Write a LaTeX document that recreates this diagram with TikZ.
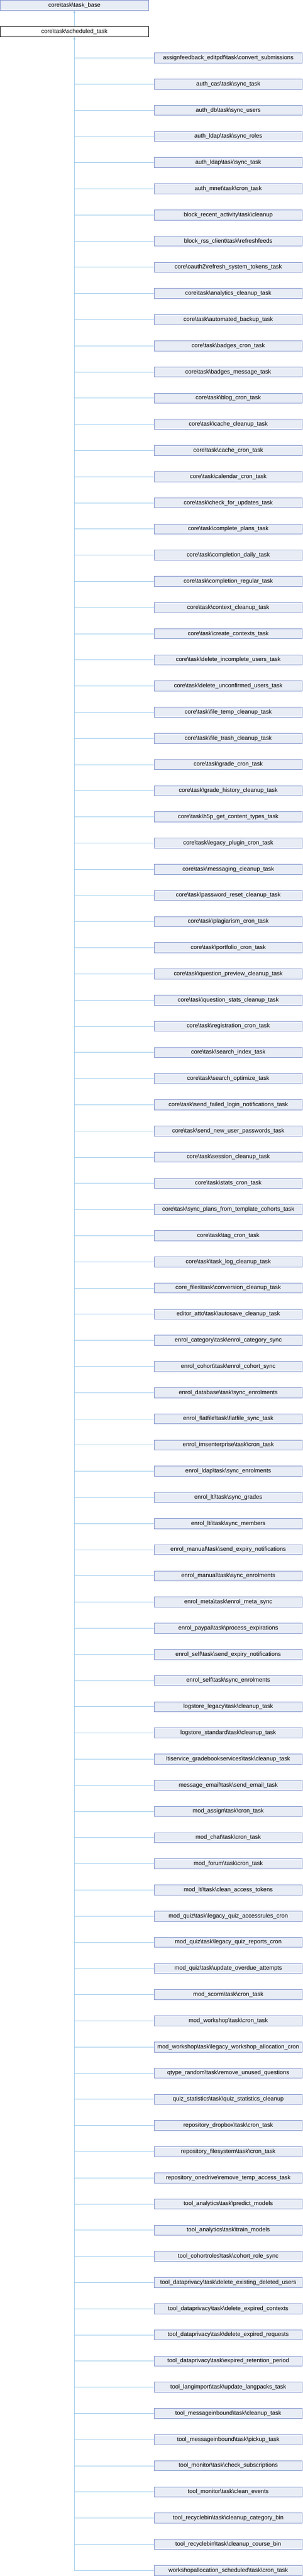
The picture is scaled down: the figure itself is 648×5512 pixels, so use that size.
\documentclass[tikz,border=0pt]{standalone}
\usepackage{fontspec}
\setmainfont{Liberation Sans}
\usetikzlibrary{arrows.meta}
\definecolor{boxfill}{RGB}{232,236,245}
\definecolor{boxline}{RGB}{124,144,204}
\definecolor{linkblue}{RGB}{150,200,235}
\newcommand{\bs}{\textbackslash}
\begin{document}
\begin{tikzpicture}[x=1pt,y=-1pt,
  cls/.style={draw=boxline,fill=boxfill,line width=1pt,minimum width=317pt,minimum height=21.6pt,inner sep=0pt,font=\fontsize{12.55}{14}\selectfont},
  cur/.style={cls,draw=black,fill=white},
  link/.style={draw=linkblue,line width=1pt},
  inherit/.style={link,-{Triangle[length=5pt,width=4.5pt]}}]
\fill[white] (0,0) rectangle (648,5512);
\useasboundingbox (0,0) rectangle (648,5512);
\node[cls] (base) at (159.2,11.65) {core\bs task\bs task\_base};
\node[cur] (sched) at (159.2,68) {core\bs task\bs scheduled\_task};
\draw[inherit] (sched) -- (base);
% derived classes, one row each
\foreach \name [count=\i from 0] in {
  assignfeedback\_editpdf\bs task\bs convert\_submissions,
  auth\_cas\bs task\bs sync\_task,
  auth\_db\bs task\bs sync\_users,
  auth\_ldap\bs task\bs sync\_roles,
  auth\_ldap\bs task\bs sync\_task,
  auth\_mnet\bs task\bs cron\_task,
  block\_recent\_activity\bs task\bs cleanup,
  block\_rss\_client\bs task\bs refreshfeeds,
  core\bs oauth2\bs refresh\_system\_tokens\_task,
  core\bs task\bs analytics\_cleanup\_task,
  core\bs task\bs automated\_backup\_task,
  core\bs task\bs badges\_cron\_task,
  core\bs task\bs badges\_message\_task,
  core\bs task\bs blog\_cron\_task,
  core\bs task\bs cache\_cleanup\_task,
  core\bs task\bs cache\_cron\_task,
  core\bs task\bs calendar\_cron\_task,
  core\bs task\bs check\_for\_updates\_task,
  core\bs task\bs complete\_plans\_task,
  core\bs task\bs completion\_daily\_task,
  core\bs task\bs completion\_regular\_task,
  core\bs task\bs context\_cleanup\_task,
  core\bs task\bs create\_contexts\_task,
  core\bs task\bs delete\_incomplete\_users\_task,
  core\bs task\bs delete\_unconfirmed\_users\_task,
  core\bs task\bs file\_temp\_cleanup\_task,
  core\bs task\bs file\_trash\_cleanup\_task,
  core\bs task\bs grade\_cron\_task,
  core\bs task\bs grade\_history\_cleanup\_task,
  core\bs task\bs h5p\_get\_content\_types\_task,
  core\bs task\bs legacy\_plugin\_cron\_task,
  core\bs task\bs messaging\_cleanup\_task,
  core\bs task\bs password\_reset\_cleanup\_task,
  core\bs task\bs plagiarism\_cron\_task,
  core\bs task\bs portfolio\_cron\_task,
  core\bs task\bs question\_preview\_cleanup\_task,
  core\bs task\bs question\_stats\_cleanup\_task,
  core\bs task\bs registration\_cron\_task,
  core\bs task\bs search\_index\_task,
  core\bs task\bs search\_optimize\_task,
  core\bs task\bs send\_failed\_login\_notifications\_task,
  core\bs task\bs send\_new\_user\_passwords\_task,
  core\bs task\bs session\_cleanup\_task,
  core\bs task\bs stats\_cron\_task,
  core\bs task\bs sync\_plans\_from\_template\_cohorts\_task,
  core\bs task\bs tag\_cron\_task,
  core\bs task\bs task\_log\_cleanup\_task,
  core\_files\bs task\bs conversion\_cleanup\_task,
  editor\_atto\bs task\bs autosave\_cleanup\_task,
  enrol\_category\bs task\bs enrol\_category\_sync,
  enrol\_cohort\bs task\bs enrol\_cohort\_sync,
  enrol\_database\bs task\bs sync\_enrolments,
  enrol\_flatfile\bs task\bs flatfile\_sync\_task,
  enrol\_imsenterprise\bs task\bs cron\_task,
  enrol\_ldap\bs task\bs sync\_enrolments,
  enrol\_lti\bs task\bs sync\_grades,
  enrol\_lti\bs task\bs sync\_members,
  enrol\_manual\bs task\bs send\_expiry\_notifications,
  enrol\_manual\bs task\bs sync\_enrolments,
  enrol\_meta\bs task\bs enrol\_meta\_sync,
  enrol\_paypal\bs task\bs process\_expirations,
  enrol\_self\bs task\bs send\_expiry\_notifications,
  enrol\_self\bs task\bs sync\_enrolments,
  logstore\_legacy\bs task\bs cleanup\_task,
  logstore\_standard\bs task\bs cleanup\_task,
  ltiservice\_gradebookservices\bs task\bs cleanup\_task,
  message\_email\bs task\bs send\_email\_task,
  mod\_assign\bs task\bs cron\_task,
  mod\_chat\bs task\bs cron\_task,
  mod\_forum\bs task\bs cron\_task,
  mod\_lti\bs task\bs clean\_access\_tokens,
  mod\_quiz\bs task\bs legacy\_quiz\_accessrules\_cron,
  mod\_quiz\bs task\bs legacy\_quiz\_reports\_cron,
  mod\_quiz\bs task\bs update\_overdue\_attempts,
  mod\_scorm\bs task\bs cron\_task,
  mod\_workshop\bs task\bs cron\_task,
  mod\_workshop\bs task\bs legacy\_workshop\_allocation\_cron,
  qtype\_random\bs task\bs remove\_unused\_questions,
  quiz\_statistics\bs task\bs quiz\_statistics\_cleanup,
  repository\_dropbox\bs task\bs cron\_task,
  repository\_filesystem\bs task\bs cron\_task,
  repository\_onedrive\bs remove\_temp\_access\_task,
  tool\_analytics\bs task\bs predict\_models,
  tool\_analytics\bs task\bs train\_models,
  tool\_cohortroles\bs task\bs cohort\_role\_sync,
  tool\_dataprivacy\bs task\bs delete\_existing\_deleted\_users,
  tool\_dataprivacy\bs task\bs delete\_expired\_contexts,
  tool\_dataprivacy\bs task\bs delete\_expired\_requests,
  tool\_dataprivacy\bs task\bs expired\_retention\_period,
  tool\_langimport\bs task\bs update\_langpacks\_task,
  tool\_messageinbound\bs task\bs cleanup\_task,
  tool\_messageinbound\bs task\bs pickup\_task,
  tool\_monitor\bs task\bs check\_subscriptions,
  tool\_monitor\bs task\bs clean\_events,
  tool\_recyclebin\bs task\bs cleanup\_category\_bin,
  tool\_recyclebin\bs task\bs cleanup\_course\_bin,
  workshopallocation\_scheduled\bs task\bs cron\_task}
  \node[cls] (child\i) at (488.3,124+56*\i) {\name};
\foreach \i in {0,...,96}
  \draw[link] (child\i.west) -- (child\i.west -| sched.south);
\draw[inherit] (child96.west -| sched.south) -- (sched.south);
\end{tikzpicture}
\end{document}
